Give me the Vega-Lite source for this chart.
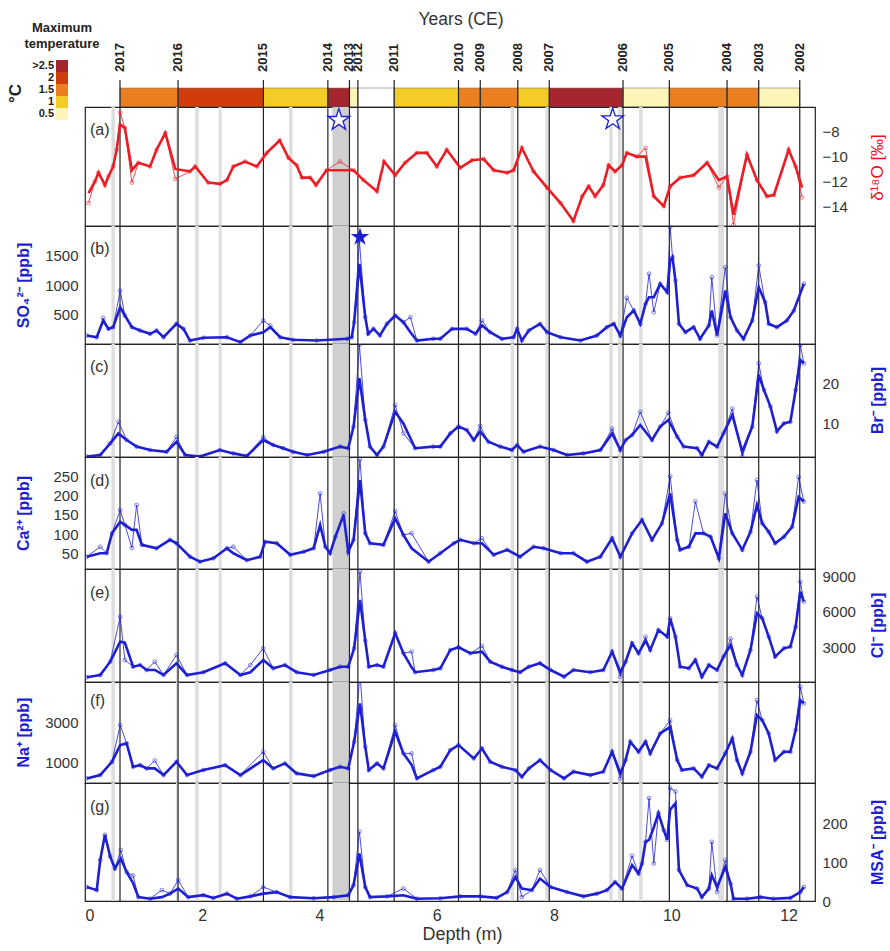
{
"$schema":"https://vega.github.io/schema/vega-lite/v6.json",
"padding":{"left":6,"top":10,"right":5,"bottom":5},
"background":"white",
"config":{"font":"Liberation Sans","view":{"stroke":"#222","strokeWidth":1.2},
"axisY":{"labelFontSize":15,"labelColor":"#333","ticks":false,"domain":false,"grid":false,"labelPadding":7,"titleFontSize":16,"titleFontWeight":"bold","titleAngle":270,"titleBaseline":"middle","titleAlign":"center"},
"axisX":{"labelFontSize":16,"labelColor":"#333","ticks":false,"domain":false,"grid":false,"labelPadding":6,"titleFontSize":18,"titleFontWeight":"normal","titleColor":"#333"}},
"datasets":{
"years":[{"year":"2017","depth":0.597},{"year":"2016","depth":1.587},{"year":"2015","depth":3.043},{"year":"2014","depth":4.142},{"year":"2013","depth":4.51},{"year":"2012","depth":4.654},{"year":"2011","depth":5.273},{"year":"2010","depth":6.37},{"year":"2009","depth":6.741},{"year":"2008","depth":7.381},{"year":"2007","depth":7.918},{"year":"2006","depth":9.176},{"year":"2005","depth":9.966},{"year":"2004","depth":10.95},{"year":"2003","depth":11.49},{"year":"2002","depth":12.19}],
"seasons":[{"start":0.597,"end":1.587,"tmax":"1.5"},{"start":1.587,"end":3.043,"tmax":"2"},{"start":3.043,"end":4.142,"tmax":"1"},{"start":4.142,"end":4.51,"tmax":">2.5"},{"start":4.51,"end":4.654,"tmax":"0.5"},{"start":4.654,"end":5.273,"tmax":"no data"},{"start":5.273,"end":6.37,"tmax":"1"},{"start":6.37,"end":6.741,"tmax":"1.5"},{"start":6.741,"end":7.381,"tmax":"1.5"},{"start":7.381,"end":7.918,"tmax":"1"},{"start":7.918,"end":9.176,"tmax":">2.5"},{"start":9.176,"end":9.966,"tmax":"0.5"},{"start":9.966,"end":10.95,"tmax":"1.5"},{"start":10.95,"end":11.49,"tmax":"1.5"},{"start":11.49,"end":12.19,"tmax":"0.5"}],
"bands":[{"start":0.45,"end":0.51,"tone":"light"},{"start":1.55,"end":1.6,"tone":"light"},{"start":1.88,"end":1.94,"tone":"light"},{"start":2.28,"end":2.33,"tone":"light"},{"start":3.48,"end":3.54,"tone":"light"},{"start":7.26,"end":7.32,"tone":"light"},{"start":7.85,"end":7.92,"tone":"light"},{"start":8.94,"end":9.0,"tone":"light"},{"start":9.09,"end":9.15,"tone":"light"},{"start":9.45,"end":9.51,"tone":"light"},{"start":10.8,"end":10.9,"tone":"light"},{"start":4.22,"end":4.5,"tone":"dark"}],
"stars":[{"panel":"a","depth":4.33,"value":-7.05,"kind":"open"},{"panel":"a","depth":9.0,"value":-7.0,"kind":"open"},{"panel":"b","depth":4.69,"value":1812,"kind":"solid"}],
"series":[
{"panel":"a","depth":0.06,"smooth":-12.94,"raw":-13.75},{"panel":"a","depth":0.17,"smooth":-12.0,"raw":-12.0},{"panel":"a","depth":0.23,"smooth":-11.3,"raw":-11.3},{"panel":"a","depth":0.34,"smooth":-12.3,"raw":-12.3},{"panel":"a","depth":0.4,"smooth":-11.6,"raw":-11.6},{"panel":"a","depth":0.48,"smooth":-10.8,"raw":-10.8},{"panel":"a","depth":0.54,"smooth":-9.45,"raw":-9.45},{"panel":"a","depth":0.6,"smooth":-7.4,"raw":-6.45},{"panel":"a","depth":0.68,"smooth":-7.7,"raw":-7.7},{"panel":"a","depth":0.8,"smooth":-11.1,"raw":-12.1},{"panel":"a","depth":0.91,"smooth":-10.5,"raw":-10.5},{"panel":"a","depth":1.11,"smooth":-10.8,"raw":-10.8},{"panel":"a","depth":1.22,"smooth":-9.45,"raw":-9.45},{"panel":"a","depth":1.37,"smooth":-8.1,"raw":-8.1},{"panel":"a","depth":1.54,"smooth":-11.0,"raw":-11.8},{"panel":"a","depth":1.79,"smooth":-11.2,"raw":-11.2},{"panel":"a","depth":1.88,"smooth":-10.8,"raw":-10.8},{"panel":"a","depth":2.1,"smooth":-12.1,"raw":-12.1},{"panel":"a","depth":2.3,"smooth":-12.2,"raw":-12.2},{"panel":"a","depth":2.42,"smooth":-11.9,"raw":-11.9},{"panel":"a","depth":2.53,"smooth":-10.8,"raw":-10.8},{"panel":"a","depth":2.73,"smooth":-10.4,"raw":-10.4},{"panel":"a","depth":2.93,"smooth":-10.8,"raw":-10.8},{"panel":"a","depth":3.1,"smooth":-9.7,"raw":-9.7},{"panel":"a","depth":3.32,"smooth":-8.7,"raw":-8.7},{"panel":"a","depth":3.47,"smooth":-10.1,"raw":-10.1},{"panel":"a","depth":3.61,"smooth":-10.7,"raw":-10.7},{"panel":"a","depth":3.7,"smooth":-11.7,"raw":-11.7},{"panel":"a","depth":3.84,"smooth":-11.7,"raw":-11.7},{"panel":"a","depth":3.94,"smooth":-12.3,"raw":-12.3},{"panel":"a","depth":4.12,"smooth":-11.1,"raw":-11.1},{"panel":"a","depth":4.35,"smooth":-11.1,"raw":-10.4},{"panel":"a","depth":4.58,"smooth":-11.1,"raw":-11.1},{"panel":"a","depth":4.75,"smooth":-11.9,"raw":-11.9},{"panel":"a","depth":4.98,"smooth":-12.8,"raw":-12.8},{"panel":"a","depth":5.1,"smooth":-10.4,"raw":-10.4},{"panel":"a","depth":5.29,"smooth":-11.5,"raw":-11.5},{"panel":"a","depth":5.46,"smooth":-10.5,"raw":-10.5},{"panel":"a","depth":5.66,"smooth":-9.7,"raw":-9.7},{"panel":"a","depth":5.83,"smooth":-9.7,"raw":-9.7},{"panel":"a","depth":6.0,"smooth":-10.8,"raw":-10.8},{"panel":"a","depth":6.17,"smooth":-9.45,"raw":-9.45},{"panel":"a","depth":6.4,"smooth":-10.9,"raw":-10.9},{"panel":"a","depth":6.6,"smooth":-10.3,"raw":-10.3},{"panel":"a","depth":6.8,"smooth":-10.2,"raw":-10.2},{"panel":"a","depth":6.97,"smooth":-11.1,"raw":-11.1},{"panel":"a","depth":7.2,"smooth":-11.3,"raw":-11.3},{"panel":"a","depth":7.31,"smooth":-11.1,"raw":-11.1},{"panel":"a","depth":7.45,"smooth":-9.3,"raw":-9.3},{"panel":"a","depth":7.65,"smooth":-11.2,"raw":-11.2},{"panel":"a","depth":7.88,"smooth":-12.5,"raw":-12.5},{"panel":"a","depth":8.11,"smooth":-13.75,"raw":-13.75},{"panel":"a","depth":8.33,"smooth":-15.2,"raw":-15.2},{"panel":"a","depth":8.48,"smooth":-13.2,"raw":-13.2},{"panel":"a","depth":8.59,"smooth":-12.4,"raw":-12.4},{"panel":"a","depth":8.7,"smooth":-13.2,"raw":-13.2},{"panel":"a","depth":8.84,"smooth":-12.3,"raw":-12.3},{"panel":"a","depth":8.93,"smooth":-10.7,"raw":-10.7},{"panel":"a","depth":9.04,"smooth":-11.2,"raw":-11.2},{"panel":"a","depth":9.16,"smooth":-10.7,"raw":-10.7},{"panel":"a","depth":9.24,"smooth":-9.7,"raw":-9.7},{"panel":"a","depth":9.41,"smooth":-10.0,"raw":-10.0},{"panel":"a","depth":9.56,"smooth":-10.0,"raw":-9.3},{"panel":"a","depth":9.7,"smooth":-13.2,"raw":-13.2},{"panel":"a","depth":9.87,"smooth":-14.0,"raw":-14.0},{"panel":"a","depth":9.98,"smooth":-12.4,"raw":-12.4},{"panel":"a","depth":10.15,"smooth":-11.7,"raw":-11.7},{"panel":"a","depth":10.38,"smooth":-11.5,"raw":-11.5},{"panel":"a","depth":10.61,"smooth":-10.5,"raw":-10.5},{"panel":"a","depth":10.81,"smooth":-11.9,"raw":-12.5},{"panel":"a","depth":10.95,"smooth":-11.6,"raw":-11.6},{"panel":"a","depth":11.06,"smooth":-14.7,"raw":-15.5},{"panel":"a","depth":11.29,"smooth":-9.85,"raw":-9.85},{"panel":"a","depth":11.46,"smooth":-11.9,"raw":-11.9},{"panel":"a","depth":11.63,"smooth":-13.2,"raw":-13.2},{"panel":"a","depth":11.75,"smooth":-13.1,"raw":-13.1},{"panel":"a","depth":12.0,"smooth":-9.45,"raw":-9.45},{"panel":"a","depth":12.12,"smooth":-10.8,"raw":-10.8},{"panel":"a","depth":12.23,"smooth":-12.5,"raw":-13.3},
{"panel":"b","depth":0.03,"smooth":144,"raw":144},{"panel":"b","depth":0.2,"smooth":115,"raw":115},{"panel":"b","depth":0.31,"smooth":398,"raw":440},{"panel":"b","depth":0.4,"smooth":257,"raw":257},{"panel":"b","depth":0.48,"smooth":285,"raw":285},{"panel":"b","depth":0.6,"smooth":624,"raw":907},{"panel":"b","depth":0.68,"smooth":483,"raw":483},{"panel":"b","depth":0.8,"smooth":285,"raw":285},{"panel":"b","depth":0.94,"smooth":229,"raw":229},{"panel":"b","depth":1.11,"smooth":173,"raw":173},{"panel":"b","depth":1.22,"smooth":229,"raw":229},{"panel":"b","depth":1.34,"smooth":115,"raw":115},{"panel":"b","depth":1.56,"smooth":342,"raw":342},{"panel":"b","depth":1.68,"smooth":257,"raw":257},{"panel":"b","depth":1.79,"smooth":59,"raw":59},{"panel":"b","depth":2.02,"smooth":105,"raw":105},{"panel":"b","depth":2.42,"smooth":115,"raw":115},{"panel":"b","depth":2.65,"smooth":31,"raw":31},{"panel":"b","depth":2.82,"smooth":144,"raw":144},{"panel":"b","depth":3.04,"smooth":200,"raw":398},{"panel":"b","depth":3.16,"smooth":285,"raw":313},{"panel":"b","depth":3.33,"smooth":115,"raw":115},{"panel":"b","depth":3.55,"smooth":71,"raw":71},{"panel":"b","depth":3.95,"smooth":59,"raw":59},{"panel":"b","depth":4.47,"smooth":88,"raw":88},{"panel":"b","depth":4.55,"smooth":115,"raw":115},{"panel":"b","depth":4.59,"smooth":370,"raw":370},{"panel":"b","depth":4.68,"smooth":1359,"raw":1750},{"panel":"b","depth":4.78,"smooth":454,"raw":454},{"panel":"b","depth":4.83,"smooth":173,"raw":173},{"panel":"b","depth":4.92,"smooth":257,"raw":257},{"panel":"b","depth":5.03,"smooth":144,"raw":144},{"panel":"b","depth":5.15,"smooth":342,"raw":342},{"panel":"b","depth":5.29,"smooth":483,"raw":483},{"panel":"b","depth":5.43,"smooth":370,"raw":370},{"panel":"b","depth":5.55,"smooth":200,"raw":454},{"panel":"b","depth":5.66,"smooth":59,"raw":59},{"panel":"b","depth":5.94,"smooth":88,"raw":88},{"panel":"b","depth":6.06,"smooth":88,"raw":88},{"panel":"b","depth":6.26,"smooth":257,"raw":257},{"panel":"b","depth":6.51,"smooth":257,"raw":257},{"panel":"b","depth":6.66,"smooth":173,"raw":173},{"panel":"b","depth":6.77,"smooth":314,"raw":398},{"panel":"b","depth":6.91,"smooth":200,"raw":200},{"panel":"b","depth":7.11,"smooth":88,"raw":88},{"panel":"b","depth":7.31,"smooth":115,"raw":115},{"panel":"b","depth":7.37,"smooth":257,"raw":257},{"panel":"b","depth":7.45,"smooth":59,"raw":59},{"panel":"b","depth":7.57,"smooth":229,"raw":229},{"panel":"b","depth":7.76,"smooth":342,"raw":342},{"panel":"b","depth":7.88,"smooth":200,"raw":200},{"panel":"b","depth":8.11,"smooth":115,"raw":115},{"panel":"b","depth":8.45,"smooth":59,"raw":59},{"panel":"b","depth":8.73,"smooth":144,"raw":144},{"panel":"b","depth":8.9,"smooth":285,"raw":285},{"panel":"b","depth":9.02,"smooth":342,"raw":342},{"panel":"b","depth":9.13,"smooth":144,"raw":144},{"panel":"b","depth":9.24,"smooth":454,"raw":783},{"panel":"b","depth":9.36,"smooth":568,"raw":568},{"panel":"b","depth":9.47,"smooth":342,"raw":342},{"panel":"b","depth":9.56,"smooth":681,"raw":681},{"panel":"b","depth":9.62,"smooth":793,"raw":1190},{"panel":"b","depth":9.7,"smooth":793,"raw":540},{"panel":"b","depth":9.81,"smooth":1020,"raw":1020},{"panel":"b","depth":9.93,"smooth":878,"raw":878},{"panel":"b","depth":9.98,"smooth":1415,"raw":1980},{"panel":"b","depth":10.02,"smooth":1470,"raw":1470},{"panel":"b","depth":10.07,"smooth":1076,"raw":1076},{"panel":"b","depth":10.13,"smooth":342,"raw":342},{"panel":"b","depth":10.24,"smooth":200,"raw":200},{"panel":"b","depth":10.38,"smooth":285,"raw":285},{"panel":"b","depth":10.49,"smooth":88,"raw":88},{"panel":"b","depth":10.64,"smooth":314,"raw":314},{"panel":"b","depth":10.69,"smooth":568,"raw":1132},{"panel":"b","depth":10.78,"smooth":144,"raw":144},{"panel":"b","depth":10.92,"smooth":907,"raw":1302},{"panel":"b","depth":11.01,"smooth":454,"raw":454},{"panel":"b","depth":11.12,"smooth":229,"raw":229},{"panel":"b","depth":11.23,"smooth":88,"raw":88},{"panel":"b","depth":11.38,"smooth":398,"raw":398},{"panel":"b","depth":11.49,"smooth":963,"raw":1331},{"panel":"b","depth":11.6,"smooth":708,"raw":708},{"panel":"b","depth":11.66,"smooth":342,"raw":342},{"panel":"b","depth":11.8,"smooth":285,"raw":285},{"panel":"b","depth":11.97,"smooth":398,"raw":398},{"panel":"b","depth":12.09,"smooth":568,"raw":568},{"panel":"b","depth":12.26,"smooth":1020,"raw":1020},
{"panel":"c","depth":0.03,"smooth":1.6,"raw":1.6},{"panel":"c","depth":0.26,"smooth":2.0,"raw":2.0},{"panel":"c","depth":0.43,"smooth":4.9,"raw":4.9},{"panel":"c","depth":0.57,"smooth":7.4,"raw":10.3},{"panel":"c","depth":0.71,"smooth":5.75,"raw":5.75},{"panel":"c","depth":0.88,"smooth":4.1,"raw":4.1},{"panel":"c","depth":1.11,"smooth":3.25,"raw":3.25},{"panel":"c","depth":1.39,"smooth":2.8,"raw":2.8},{"panel":"c","depth":1.56,"smooth":5.3,"raw":6.5},{"panel":"c","depth":1.71,"smooth":2.0,"raw":2.0},{"panel":"c","depth":1.96,"smooth":1.6,"raw":1.6},{"panel":"c","depth":2.3,"smooth":3.25,"raw":3.25},{"panel":"c","depth":2.53,"smooth":2.4,"raw":2.4},{"panel":"c","depth":2.76,"smooth":1.75,"raw":1.75},{"panel":"c","depth":3.04,"smooth":5.75,"raw":6.5},{"panel":"c","depth":3.21,"smooth":4.5,"raw":4.5},{"panel":"c","depth":3.38,"smooth":3.7,"raw":3.7},{"panel":"c","depth":3.55,"smooth":2.8,"raw":2.8},{"panel":"c","depth":3.79,"smooth":2.0,"raw":2.0},{"panel":"c","depth":4.07,"smooth":2.8,"raw":2.8},{"panel":"c","depth":4.35,"smooth":4.1,"raw":4.1},{"panel":"c","depth":4.49,"smooth":3.7,"raw":3.7},{"panel":"c","depth":4.58,"smooth":9.1,"raw":9.1},{"panel":"c","depth":4.68,"smooth":21.2,"raw":29.5},{"panel":"c","depth":4.78,"smooth":10.75,"raw":10.75},{"panel":"c","depth":4.86,"smooth":4.1,"raw":4.1},{"panel":"c","depth":4.98,"smooth":2.0,"raw":2.0},{"panel":"c","depth":5.09,"smooth":4.1,"raw":4.1},{"panel":"c","depth":5.29,"smooth":12.8,"raw":14.5},{"panel":"c","depth":5.43,"smooth":9.9,"raw":7.4},{"panel":"c","depth":5.63,"smooth":3.7,"raw":3.7},{"panel":"c","depth":5.94,"smooth":4.1,"raw":4.1},{"panel":"c","depth":6.06,"smooth":4.1,"raw":4.1},{"panel":"c","depth":6.23,"smooth":7.4,"raw":7.4},{"panel":"c","depth":6.37,"smooth":9.1,"raw":9.1},{"panel":"c","depth":6.51,"smooth":8.25,"raw":8.25},{"panel":"c","depth":6.63,"smooth":5.75,"raw":5.75},{"panel":"c","depth":6.74,"smooth":7.9,"raw":9.3},{"panel":"c","depth":6.88,"smooth":5.3,"raw":5.3},{"panel":"c","depth":7.08,"smooth":4.1,"raw":4.1},{"panel":"c","depth":7.28,"smooth":3.25,"raw":3.25},{"panel":"c","depth":7.37,"smooth":4.5,"raw":4.5},{"panel":"c","depth":7.48,"smooth":2.8,"raw":2.8},{"panel":"c","depth":7.76,"smooth":4.1,"raw":4.1},{"panel":"c","depth":7.99,"smooth":3.25,"raw":3.25},{"panel":"c","depth":8.22,"smooth":2.0,"raw":2.0},{"panel":"c","depth":8.5,"smooth":2.4,"raw":2.4},{"panel":"c","depth":8.79,"smooth":3.25,"raw":3.25},{"panel":"c","depth":8.99,"smooth":7.4,"raw":8.6},{"panel":"c","depth":9.13,"smooth":3.25,"raw":3.25},{"panel":"c","depth":9.22,"smooth":5.75,"raw":5.75},{"panel":"c","depth":9.33,"smooth":7.0,"raw":7.0},{"panel":"c","depth":9.47,"smooth":9.5,"raw":12.8},{"panel":"c","depth":9.67,"smooth":5.75,"raw":5.75},{"panel":"c","depth":9.81,"smooth":9.1,"raw":9.1},{"panel":"c","depth":9.95,"smooth":10.75,"raw":12.6},{"panel":"c","depth":10.1,"smooth":6.6,"raw":6.6},{"panel":"c","depth":10.21,"smooth":4.1,"raw":4.1},{"panel":"c","depth":10.44,"smooth":3.7,"raw":3.7},{"panel":"c","depth":10.52,"smooth":2.0,"raw":2.0},{"panel":"c","depth":10.64,"smooth":5.3,"raw":5.3},{"panel":"c","depth":10.78,"smooth":4.1,"raw":4.1},{"panel":"c","depth":10.89,"smooth":7.4,"raw":7.4},{"panel":"c","depth":11.04,"smooth":12.0,"raw":13.6},{"panel":"c","depth":11.21,"smooth":2.8,"raw":1.6},{"panel":"c","depth":11.38,"smooth":9.1,"raw":9.1},{"panel":"c","depth":11.49,"smooth":22.0,"raw":24.9},{"panel":"c","depth":11.58,"smooth":18.25,"raw":18.25},{"panel":"c","depth":11.69,"smooth":14.1,"raw":14.1},{"panel":"c","depth":11.8,"smooth":7.9,"raw":7.9},{"panel":"c","depth":11.92,"smooth":9.9,"raw":9.9},{"panel":"c","depth":12.03,"smooth":10.3,"raw":10.3},{"panel":"c","depth":12.12,"smooth":18.25,"raw":18.25},{"panel":"c","depth":12.2,"smooth":25.75,"raw":29.5},{"panel":"c","depth":12.26,"smooth":24.9,"raw":24.9},
{"panel":"d","depth":0.03,"smooth":41,"raw":41},{"panel":"d","depth":0.26,"smooth":50,"raw":67},{"panel":"d","depth":0.37,"smooth":50,"raw":50},{"panel":"d","depth":0.46,"smooth":102,"raw":102},{"panel":"d","depth":0.6,"smooth":132,"raw":163},{"panel":"d","depth":0.68,"smooth":124,"raw":124},{"panel":"d","depth":0.8,"smooth":111,"raw":64},{"panel":"d","depth":0.88,"smooth":111,"raw":176},{"panel":"d","depth":0.97,"smooth":72,"raw":72},{"panel":"d","depth":1.22,"smooth":63,"raw":63},{"panel":"d","depth":1.45,"smooth":85,"raw":85},{"panel":"d","depth":1.56,"smooth":76,"raw":76},{"panel":"d","depth":1.79,"smooth":41,"raw":41},{"panel":"d","depth":1.96,"smooth":28,"raw":28},{"panel":"d","depth":2.19,"smooth":37,"raw":37},{"panel":"d","depth":2.42,"smooth":63,"raw":63},{"panel":"d","depth":2.53,"smooth":50,"raw":67},{"panel":"d","depth":2.76,"smooth":32,"raw":32},{"panel":"d","depth":2.99,"smooth":41,"raw":41},{"panel":"d","depth":3.07,"smooth":80,"raw":80},{"panel":"d","depth":3.27,"smooth":76,"raw":76},{"panel":"d","depth":3.5,"smooth":46,"raw":46},{"panel":"d","depth":3.73,"smooth":54,"raw":54},{"panel":"d","depth":3.9,"smooth":63,"raw":63},{"panel":"d","depth":4.01,"smooth":124,"raw":206},{"panel":"d","depth":4.1,"smooth":67,"raw":67},{"panel":"d","depth":4.18,"smooth":50,"raw":50},{"panel":"d","depth":4.27,"smooth":93,"raw":93},{"panel":"d","depth":4.41,"smooth":150,"raw":154},{"panel":"d","depth":4.49,"smooth":54,"raw":54},{"panel":"d","depth":4.58,"smooth":85,"raw":85},{"panel":"d","depth":4.69,"smooth":241,"raw":295},{"panel":"d","depth":4.78,"smooth":102,"raw":102},{"panel":"d","depth":4.86,"smooth":76,"raw":76},{"panel":"d","depth":5.09,"smooth":72,"raw":72},{"panel":"d","depth":5.29,"smooth":141,"raw":160},{"panel":"d","depth":5.43,"smooth":98,"raw":98},{"panel":"d","depth":5.57,"smooth":63,"raw":102},{"panel":"d","depth":5.86,"smooth":28,"raw":28},{"panel":"d","depth":6.06,"smooth":50,"raw":50},{"panel":"d","depth":6.29,"smooth":76,"raw":76},{"panel":"d","depth":6.4,"smooth":85,"raw":85},{"panel":"d","depth":6.63,"smooth":76,"raw":76},{"panel":"d","depth":6.77,"smooth":76,"raw":89},{"panel":"d","depth":6.97,"smooth":46,"raw":46},{"panel":"d","depth":7.2,"smooth":59,"raw":59},{"panel":"d","depth":7.42,"smooth":41,"raw":41},{"panel":"d","depth":7.65,"smooth":67,"raw":67},{"panel":"d","depth":7.82,"smooth":63,"raw":63},{"panel":"d","depth":8.11,"smooth":50,"raw":50},{"panel":"d","depth":8.33,"smooth":50,"raw":50},{"panel":"d","depth":8.56,"smooth":28,"raw":28},{"panel":"d","depth":8.79,"smooth":41,"raw":41},{"panel":"d","depth":8.99,"smooth":89,"raw":89},{"panel":"d","depth":9.13,"smooth":41,"raw":41},{"panel":"d","depth":9.33,"smooth":102,"raw":102},{"panel":"d","depth":9.5,"smooth":137,"raw":137},{"panel":"d","depth":9.67,"smooth":85,"raw":85},{"panel":"d","depth":9.84,"smooth":128,"raw":128},{"panel":"d","depth":9.98,"smooth":206,"raw":251},{"panel":"d","depth":10.1,"smooth":85,"raw":85},{"panel":"d","depth":10.15,"smooth":59,"raw":59},{"panel":"d","depth":10.3,"smooth":67,"raw":67},{"panel":"d","depth":10.41,"smooth":102,"raw":185},{"panel":"d","depth":10.55,"smooth":102,"raw":102},{"panel":"d","depth":10.67,"smooth":93,"raw":93},{"panel":"d","depth":10.81,"smooth":37,"raw":37},{"panel":"d","depth":10.92,"smooth":154,"raw":206},{"panel":"d","depth":11.04,"smooth":102,"raw":102},{"panel":"d","depth":11.21,"smooth":59,"raw":59},{"panel":"d","depth":11.35,"smooth":106,"raw":106},{"panel":"d","depth":11.46,"smooth":176,"raw":241},{"panel":"d","depth":11.55,"smooth":128,"raw":128},{"panel":"d","depth":11.66,"smooth":106,"raw":106},{"panel":"d","depth":11.77,"smooth":76,"raw":76},{"panel":"d","depth":11.92,"smooth":93,"raw":93},{"panel":"d","depth":12.06,"smooth":119,"raw":119},{"panel":"d","depth":12.17,"smooth":197,"raw":249},{"panel":"d","depth":12.26,"smooth":185,"raw":185},
{"panel":"e","depth":0.03,"smooth":450,"raw":450},{"panel":"e","depth":0.26,"smooth":645,"raw":645},{"panel":"e","depth":0.43,"smooth":1776,"raw":1776},{"panel":"e","depth":0.6,"smooth":3476,"raw":5600},{"panel":"e","depth":0.68,"smooth":3400,"raw":1920},{"panel":"e","depth":0.82,"smooth":1350,"raw":1350},{"panel":"e","depth":0.94,"smooth":1490,"raw":1490},{"panel":"e","depth":1.05,"smooth":1070,"raw":1070},{"panel":"e","depth":1.19,"smooth":1070,"raw":1776},{"panel":"e","depth":1.34,"smooth":645,"raw":645},{"panel":"e","depth":1.56,"smooth":1640,"raw":2346},{"panel":"e","depth":1.74,"smooth":645,"raw":645},{"panel":"e","depth":2.02,"smooth":880,"raw":880},{"panel":"e","depth":2.39,"smooth":1640,"raw":1640},{"panel":"e","depth":2.65,"smooth":645,"raw":645},{"panel":"e","depth":2.82,"smooth":880,"raw":1490},{"panel":"e","depth":3.04,"smooth":1920,"raw":2910},{"panel":"e","depth":3.21,"smooth":1210,"raw":1210},{"panel":"e","depth":3.41,"smooth":1490,"raw":1490},{"panel":"e","depth":3.61,"smooth":880,"raw":880},{"panel":"e","depth":3.9,"smooth":645,"raw":645},{"panel":"e","depth":4.18,"smooth":1070,"raw":1070},{"panel":"e","depth":4.35,"smooth":1350,"raw":1350},{"panel":"e","depth":4.49,"smooth":1350,"raw":1350},{"panel":"e","depth":4.59,"smooth":2915,"raw":2915},{"panel":"e","depth":4.69,"smooth":7020,"raw":9426},{"panel":"e","depth":4.78,"smooth":3560,"raw":3560},{"panel":"e","depth":4.84,"smooth":1350,"raw":1350},{"panel":"e","depth":4.98,"smooth":1490,"raw":1490},{"panel":"e","depth":5.09,"smooth":1350,"raw":1350},{"panel":"e","depth":5.29,"smooth":4190,"raw":4190},{"panel":"e","depth":5.43,"smooth":2490,"raw":2490},{"panel":"e","depth":5.57,"smooth":1300,"raw":2630},{"panel":"e","depth":5.63,"smooth":880,"raw":880},{"panel":"e","depth":5.94,"smooth":1070,"raw":1070},{"panel":"e","depth":6.06,"smooth":1215,"raw":1215},{"panel":"e","depth":6.23,"smooth":2770,"raw":2770},{"panel":"e","depth":6.37,"smooth":3000,"raw":3000},{"panel":"e","depth":6.57,"smooth":2490,"raw":2490},{"panel":"e","depth":6.77,"smooth":2630,"raw":3110},{"panel":"e","depth":6.91,"smooth":1776,"raw":1776},{"panel":"e","depth":7.11,"smooth":1350,"raw":1350},{"panel":"e","depth":7.28,"smooth":1070,"raw":1070},{"panel":"e","depth":7.42,"smooth":880,"raw":880},{"panel":"e","depth":7.57,"smooth":1350,"raw":1350},{"panel":"e","depth":7.76,"smooth":1640,"raw":1640},{"panel":"e","depth":7.94,"smooth":1070,"raw":1070},{"panel":"e","depth":8.17,"smooth":500,"raw":500},{"panel":"e","depth":8.33,"smooth":1070,"raw":1070},{"panel":"e","depth":8.62,"smooth":880,"raw":880},{"panel":"e","depth":8.84,"smooth":1070,"raw":1070},{"panel":"e","depth":8.99,"smooth":2630,"raw":2630},{"panel":"e","depth":9.13,"smooth":880,"raw":500},{"panel":"e","depth":9.22,"smooth":1776,"raw":1776},{"panel":"e","depth":9.33,"smooth":3340,"raw":3340},{"panel":"e","depth":9.44,"smooth":2490,"raw":2490},{"panel":"e","depth":9.56,"smooth":3560,"raw":3900},{"panel":"e","depth":9.64,"smooth":2770,"raw":2770},{"panel":"e","depth":9.78,"smooth":4470,"raw":4470},{"panel":"e","depth":9.93,"smooth":3900,"raw":3900},{"panel":"e","depth":9.98,"smooth":5460,"raw":5460},{"panel":"e","depth":10.07,"smooth":3900,"raw":3900},{"panel":"e","depth":10.15,"smooth":1350,"raw":1350},{"panel":"e","depth":10.3,"smooth":1215,"raw":1215},{"panel":"e","depth":10.41,"smooth":1920,"raw":1920},{"panel":"e","depth":10.52,"smooth":500,"raw":500},{"panel":"e","depth":10.64,"smooth":1490,"raw":1490},{"panel":"e","depth":10.78,"smooth":1070,"raw":1070},{"panel":"e","depth":10.89,"smooth":2200,"raw":2200},{"panel":"e","depth":11.01,"smooth":3195,"raw":3730},{"panel":"e","depth":11.12,"smooth":1490,"raw":1490},{"panel":"e","depth":11.21,"smooth":645,"raw":645},{"panel":"e","depth":11.35,"smooth":2770,"raw":2770},{"panel":"e","depth":11.46,"smooth":5890,"raw":7300},{"panel":"e","depth":11.55,"smooth":5460,"raw":5460},{"panel":"e","depth":11.66,"smooth":3900,"raw":3900},{"panel":"e","depth":11.77,"smooth":2200,"raw":2200},{"panel":"e","depth":11.92,"smooth":2910,"raw":2910},{"panel":"e","depth":12.03,"smooth":3050,"raw":3050},{"panel":"e","depth":12.12,"smooth":4750,"raw":4750},{"panel":"e","depth":12.2,"smooth":7730,"raw":8580},{"panel":"e","depth":12.26,"smooth":6880,"raw":6880},
{"panel":"f","depth":0.03,"smooth":228,"raw":228},{"panel":"f","depth":0.26,"smooth":391,"raw":391},{"panel":"f","depth":0.46,"smooth":1050,"raw":1050},{"panel":"f","depth":0.6,"smooth":1876,"raw":2866},{"panel":"f","depth":0.71,"smooth":1960,"raw":1960},{"panel":"f","depth":0.82,"smooth":802,"raw":802},{"panel":"f","depth":0.94,"smooth":880,"raw":880},{"panel":"f","depth":1.05,"smooth":722,"raw":722},{"panel":"f","depth":1.19,"smooth":722,"raw":1110},{"panel":"f","depth":1.34,"smooth":391,"raw":391},{"panel":"f","depth":1.56,"smooth":1050,"raw":1050},{"panel":"f","depth":1.74,"smooth":391,"raw":391},{"panel":"f","depth":2.02,"smooth":640,"raw":640},{"panel":"f","depth":2.39,"smooth":880,"raw":880},{"panel":"f","depth":2.65,"smooth":391,"raw":391},{"panel":"f","depth":3.04,"smooth":1134,"raw":1545},{"panel":"f","depth":3.21,"smooth":722,"raw":722},{"panel":"f","depth":3.41,"smooth":970,"raw":970},{"panel":"f","depth":3.61,"smooth":475,"raw":475},{"panel":"f","depth":3.9,"smooth":340,"raw":340},{"panel":"f","depth":4.18,"smooth":640,"raw":640},{"panel":"f","depth":4.35,"smooth":802,"raw":802},{"panel":"f","depth":4.49,"smooth":722,"raw":722},{"panel":"f","depth":4.59,"smooth":2040,"raw":2040},{"panel":"f","depth":4.69,"smooth":3940,"raw":5425},{"panel":"f","depth":4.78,"smooth":1795,"raw":1795},{"panel":"f","depth":4.84,"smooth":640,"raw":640},{"panel":"f","depth":4.98,"smooth":970,"raw":970},{"panel":"f","depth":5.09,"smooth":722,"raw":722},{"panel":"f","depth":5.29,"smooth":2535,"raw":2866},{"panel":"f","depth":5.43,"smooth":1465,"raw":1465},{"panel":"f","depth":5.57,"smooth":900,"raw":1465},{"panel":"f","depth":5.66,"smooth":228,"raw":228},{"panel":"f","depth":5.94,"smooth":640,"raw":640},{"panel":"f","depth":6.06,"smooth":802,"raw":802},{"panel":"f","depth":6.23,"smooth":1630,"raw":1630},{"panel":"f","depth":6.37,"smooth":1876,"raw":1876},{"panel":"f","depth":6.63,"smooth":1215,"raw":1215},{"panel":"f","depth":6.77,"smooth":1710,"raw":1710},{"panel":"f","depth":6.91,"smooth":1050,"raw":1050},{"panel":"f","depth":7.11,"smooth":802,"raw":802},{"panel":"f","depth":7.34,"smooth":640,"raw":640},{"panel":"f","depth":7.45,"smooth":310,"raw":310},{"panel":"f","depth":7.57,"smooth":722,"raw":722},{"panel":"f","depth":7.76,"smooth":1134,"raw":1134},{"panel":"f","depth":7.94,"smooth":640,"raw":640},{"panel":"f","depth":8.17,"smooth":228,"raw":228},{"panel":"f","depth":8.33,"smooth":557,"raw":557},{"panel":"f","depth":8.62,"smooth":391,"raw":391},{"panel":"f","depth":8.84,"smooth":557,"raw":557},{"panel":"f","depth":8.99,"smooth":1545,"raw":1545},{"panel":"f","depth":9.13,"smooth":475,"raw":228},{"panel":"f","depth":9.22,"smooth":1134,"raw":1134},{"panel":"f","depth":9.3,"smooth":2040,"raw":2040},{"panel":"f","depth":9.44,"smooth":1545,"raw":1545},{"panel":"f","depth":9.56,"smooth":2040,"raw":2040},{"panel":"f","depth":9.64,"smooth":1465,"raw":1465},{"panel":"f","depth":9.81,"smooth":2455,"raw":2455},{"panel":"f","depth":9.98,"smooth":2780,"raw":3110},{"panel":"f","depth":10.1,"smooth":1134,"raw":1134},{"panel":"f","depth":10.18,"smooth":640,"raw":640},{"panel":"f","depth":10.38,"smooth":722,"raw":722},{"panel":"f","depth":10.52,"smooth":310,"raw":310},{"panel":"f","depth":10.64,"smooth":880,"raw":880},{"panel":"f","depth":10.78,"smooth":722,"raw":722},{"panel":"f","depth":10.92,"smooth":1465,"raw":1465},{"panel":"f","depth":11.04,"smooth":2200,"raw":2200},{"panel":"f","depth":11.12,"smooth":1134,"raw":1134},{"panel":"f","depth":11.21,"smooth":475,"raw":475},{"panel":"f","depth":11.35,"smooth":1545,"raw":1545},{"panel":"f","depth":11.46,"smooth":3360,"raw":4100},{"panel":"f","depth":11.55,"smooth":3110,"raw":3110},{"panel":"f","depth":11.66,"smooth":2455,"raw":2455},{"panel":"f","depth":11.77,"smooth":1134,"raw":1134},{"panel":"f","depth":11.92,"smooth":1545,"raw":1545},{"panel":"f","depth":12.03,"smooth":1545,"raw":1545},{"panel":"f","depth":12.12,"smooth":2620,"raw":2620},{"panel":"f","depth":12.2,"smooth":4100,"raw":4760},{"panel":"f","depth":12.26,"smooth":3940,"raw":3940},
{"panel":"g","depth":0.03,"smooth":36,"raw":36},{"panel":"g","depth":0.2,"smooth":28,"raw":28},{"panel":"g","depth":0.26,"smooth":106,"raw":106},{"panel":"g","depth":0.34,"smooth":171,"raw":171},{"panel":"g","depth":0.43,"smooth":115,"raw":115},{"panel":"g","depth":0.51,"smooth":84,"raw":84},{"panel":"g","depth":0.61,"smooth":110,"raw":132},{"panel":"g","depth":0.71,"smooth":75,"raw":75},{"panel":"g","depth":0.82,"smooth":46,"raw":66},{"panel":"g","depth":0.91,"smooth":10,"raw":10},{"panel":"g","depth":1.11,"smooth":6,"raw":6},{"panel":"g","depth":1.31,"smooth":10,"raw":28},{"panel":"g","depth":1.45,"smooth":19,"raw":19},{"panel":"g","depth":1.59,"smooth":32,"raw":54},{"panel":"g","depth":1.76,"smooth":10,"raw":10},{"panel":"g","depth":2.02,"smooth":15,"raw":15},{"panel":"g","depth":2.19,"smooth":8,"raw":8},{"panel":"g","depth":2.42,"smooth":19,"raw":19},{"panel":"g","depth":2.59,"smooth":6,"raw":6},{"panel":"g","depth":2.82,"smooth":12,"raw":12},{"panel":"g","depth":3.04,"smooth":19,"raw":36},{"panel":"g","depth":3.27,"smooth":23,"raw":23},{"panel":"g","depth":3.5,"smooth":10,"raw":10},{"panel":"g","depth":3.9,"smooth":7,"raw":7},{"panel":"g","depth":4.24,"smooth":10,"raw":10},{"panel":"g","depth":4.49,"smooth":15,"raw":15},{"panel":"g","depth":4.58,"smooth":41,"raw":41},{"panel":"g","depth":4.68,"smooth":123,"raw":179},{"panel":"g","depth":4.78,"smooth":36,"raw":36},{"panel":"g","depth":4.86,"smooth":10,"raw":10},{"panel":"g","depth":5.15,"smooth":12,"raw":12},{"panel":"g","depth":5.43,"smooth":15,"raw":32},{"panel":"g","depth":5.66,"smooth":6,"raw":6},{"panel":"g","depth":6.06,"smooth":7,"raw":7},{"panel":"g","depth":6.4,"smooth":12,"raw":12},{"panel":"g","depth":6.74,"smooth":12,"raw":12},{"panel":"g","depth":7.02,"smooth":8,"raw":8},{"panel":"g","depth":7.2,"smooth":23,"raw":23},{"panel":"g","depth":7.34,"smooth":62,"raw":80},{"panel":"g","depth":7.45,"smooth":32,"raw":10},{"panel":"g","depth":7.62,"smooth":28,"raw":28},{"panel":"g","depth":7.76,"smooth":58,"raw":80},{"panel":"g","depth":7.94,"smooth":36,"raw":36},{"panel":"g","depth":8.22,"smooth":23,"raw":23},{"panel":"g","depth":8.5,"smooth":12,"raw":12},{"panel":"g","depth":8.73,"smooth":19,"raw":19},{"panel":"g","depth":8.9,"smooth":28,"raw":28},{"panel":"g","depth":9.04,"smooth":49,"raw":49},{"panel":"g","depth":9.16,"smooth":32,"raw":32},{"panel":"g","depth":9.33,"smooth":93,"raw":117},{"panel":"g","depth":9.44,"smooth":71,"raw":71},{"panel":"g","depth":9.5,"smooth":97,"raw":97},{"panel":"g","depth":9.56,"smooth":153,"raw":153},{"panel":"g","depth":9.62,"smooth":158,"raw":266},{"panel":"g","depth":9.7,"smooth":190,"raw":97},{"panel":"g","depth":9.78,"smooth":227,"raw":227},{"panel":"g","depth":9.87,"smooth":183,"raw":183},{"panel":"g","depth":9.93,"smooth":158,"raw":158},{"panel":"g","depth":9.98,"smooth":236,"raw":292},{"panel":"g","depth":10.07,"smooth":253,"raw":283},{"panel":"g","depth":10.13,"smooth":80,"raw":80},{"panel":"g","depth":10.27,"smooth":41,"raw":41},{"panel":"g","depth":10.44,"smooth":32,"raw":32},{"panel":"g","depth":10.52,"smooth":10,"raw":10},{"panel":"g","depth":10.64,"smooth":32,"raw":32},{"panel":"g","depth":10.69,"smooth":67,"raw":153},{"panel":"g","depth":10.78,"smooth":36,"raw":23},{"panel":"g","depth":10.92,"smooth":88,"raw":106},{"panel":"g","depth":11.01,"smooth":45,"raw":45},{"panel":"g","depth":11.06,"smooth":6,"raw":6},{"panel":"g","depth":11.29,"smooth":6,"raw":6},{"panel":"g","depth":11.52,"smooth":10,"raw":10},{"panel":"g","depth":11.74,"smooth":6,"raw":6},{"panel":"g","depth":12.03,"smooth":8,"raw":8},{"panel":"g","depth":12.2,"smooth":23,"raw":23},{"panel":"g","depth":12.26,"smooth":36,"raw":36}
]},
"spacing":0,
"bounds":"flush",
"vconcat":[
{"width":730,"height":60,"view":{"stroke":null},
"title":{"text":"Years (CE)","fontSize":17.5,"fontWeight":"normal","color":"#333","anchor":"middle","frame":"group","dx":11,"offset":1,"baseline":"alphabetic"},
"layer":[
{"data":{"name":"seasons"},"mark":{"type":"rect","stroke":"#777","strokeWidth":0.6},"encoding":{
"x":{"field":"start","type":"quantitative","scale":{"domain":[0,12.45],"nice":false,"zero":false},"axis":null},"x2":{"field":"end"},
"y":{"datum":0,"type":"quantitative","scale":{"domain":[0,60],"nice":false,"zero":false},"axis":{"orient":"left","title":"°C","labels":false,"ticks":false,"domain":false,"grid":false,"titleX":-70,"titleY":46,"titleAngle":270,"titleFontSize":17,"titleFontWeight":"bold","titleColor":"#222","titleBaseline":"middle","titleAlign":"center"}},"y2":{"datum":19},
"color":{"field":"tmax","type":"nominal","scale":{"domain":[">2.5","2","1.5","1","0.5","no data"],"range":["#a6262f","#d03c0c","#ea7f21","#f5cc26","#fdf5b8","#ffffff"]},
"legend":{"values":[">2.5","2","1.5","1","0.5"],"orient":"none","legendX":-61,"legendY":-25,"title":["Maximum","temperature"],"titleFontSize":13,"titleFontWeight":"bold","titleColor":"#222","titleAnchor":"middle","titleAlign":"center","titleLineHeight":16,"titlePadding":9,"symbolType":"square","symbolSize":144,"symbolStrokeWidth":0,"symbolOpacity":1,"rowPadding":0,"labelAlign":"right","labelOffset":-14,"labelFontSize":11,"labelFontWeight":"bold","labelColor":"#222","padding":0}}}},
{"data":{"name":"years"},"mark":{"type":"rule","color":"#222","strokeWidth":1.2},"encoding":{
"x":{"field":"depth","type":"quantitative","scale":{"domain":[0,12.45],"nice":false,"zero":false},"axis":null},
"y":{"datum":0,"type":"quantitative","scale":{"domain":[0,60],"nice":false,"zero":false},"axis":{"orient":"left","title":"°C","labels":false,"ticks":false,"domain":false,"grid":false,"titleX":-70,"titleY":46,"titleAngle":270,"titleFontSize":17,"titleFontWeight":"bold","titleColor":"#222","titleBaseline":"middle","titleAlign":"center"}},"y2":{"datum":27}}},
{"data":{"name":"years"},"mark":{"type":"text","angle":270,"align":"left","baseline":"middle","fontSize":13,"fontWeight":"bold","color":"#222"},"encoding":{
"x":{"field":"depth","type":"quantitative","scale":{"domain":[0,12.45],"nice":false,"zero":false},"axis":null},
"y":{"datum":35,"type":"quantitative","scale":{"domain":[0,60],"nice":false,"zero":false},"axis":{"orient":"left","title":"°C","labels":false,"ticks":false,"domain":false,"grid":false,"titleX":-70,"titleY":46,"titleAngle":270,"titleFontSize":17,"titleFontWeight":"bold","titleColor":"#222","titleBaseline":"middle","titleAlign":"center"}},
"text":{"field":"year","type":"nominal"}}}
]},
{"width":730,"height":119,
"title":{"text":"(a)","anchor":"start","frame":"group","offset":0,"dx":5,"dy":41,"baseline":"middle","fontSize":16,"fontWeight":"normal","color":"#333"},
"layer":[
{"data":{"name":"bands"},"transform":[{"filter":"datum.tone == 'light'"}],"mark":{"type":"rect","color":"#dedede"},"encoding":{"x":{"field":"start","type":"quantitative","scale":{"domain":[0,12.45],"nice":false,"zero":false},"axis":null},"x2":{"field":"end"}}},
{"data":{"name":"bands"},"transform":[{"filter":"datum.tone == 'dark'"}],"mark":{"type":"rect","color":"#cfcfcf"},"encoding":{"x":{"field":"start","type":"quantitative","scale":{"domain":[0,12.45],"nice":false,"zero":false},"axis":null},"x2":{"field":"end"}}},
{"data":{"name":"years"},"mark":{"type":"rule","color":"#222","strokeWidth":1.2},"encoding":{"x":{"field":"depth","type":"quantitative","scale":{"domain":[0,12.45],"nice":false,"zero":false},"axis":null}}},
{"data":{"name":"series"},"transform":[{"filter":"datum.panel == 'a'"}],"encoding":{"x":{"field":"depth","type":"quantitative","scale":{"domain":[0,12.45],"nice":false,"zero":false},"axis":null},
"y":{"field":"raw","type":"quantitative","scale":{"domain":[-15.6,-6],"nice":false,"zero":false},"axis":{"orient":"right","values":[-8,-10,-12,-14],"format":"d","title":"δ¹⁸O [‰]","titleColor":"#e8141b","titleFontWeight":"normal","titleFontSize":17,"titleX":62,"titleY":60}}},
"layer":[{"mark":{"type":"line","color":"#ec1c24","strokeWidth":0.8,"clip":true}},{"mark":{"type":"point","shape":"circle","size":14,"filled":false,"color":"#ec1c24","strokeWidth":0.8,"clip":true}}]},
{"data":{"name":"series"},"transform":[{"filter":"datum.panel == 'a'"}],"mark":{"type":"line","color":"#ec1c24","strokeWidth":2.6,"clip":true},"encoding":{"x":{"field":"depth","type":"quantitative","scale":{"domain":[0,12.45],"nice":false,"zero":false},"axis":null},
"y":{"field":"smooth","type":"quantitative","scale":{"domain":[-15.6,-6],"nice":false,"zero":false},"axis":{"orient":"right","values":[-8,-10,-12,-14],"format":"d","title":"δ¹⁸O [‰]","titleColor":"#e8141b","titleFontWeight":"normal","titleFontSize":17,"titleX":62,"titleY":60}}}},
{"data":{"name":"stars"},"transform":[{"filter":"datum.panel == 'a'"}],"mark":{"type":"point","shape":"M0,-1L0.2245,-0.309L0.951,-0.309L0.363,0.118L0.588,0.809L0,0.382L-0.588,0.809L-0.363,0.118L-0.951,-0.309L-0.2245,-0.309Z","size":520,"filled":true,"fill":"#ffffff","stroke":"#1f1fd2","strokeWidth":1.3,"opacity":1},"encoding":{"x":{"field":"depth","type":"quantitative","scale":{"domain":[0,12.45],"nice":false,"zero":false},"axis":null},
"y":{"field":"value","type":"quantitative","scale":{"domain":[-15.6,-6],"nice":false,"zero":false},"axis":{"orient":"right","values":[-8,-10,-12,-14],"format":"d","title":"δ¹⁸O [‰]","titleColor":"#e8141b","titleFontWeight":"normal","titleFontSize":17,"titleX":62,"titleY":60}}}}
]},
{"width":730,"height":118,
"title":{"text":"(b)","anchor":"start","frame":"group","offset":0,"dx":5,"dy":40,"baseline":"middle","fontSize":16,"fontWeight":"normal","color":"#333"},
"layer":[
{"data":{"name":"bands"},"transform":[{"filter":"datum.tone == 'light'"}],"mark":{"type":"rect","color":"#dedede"},"encoding":{"x":{"field":"start","type":"quantitative","scale":{"domain":[0,12.45],"nice":false,"zero":false},"axis":null},"x2":{"field":"end"}}},
{"data":{"name":"bands"},"transform":[{"filter":"datum.tone == 'dark'"}],"mark":{"type":"rect","color":"#cfcfcf"},"encoding":{"x":{"field":"start","type":"quantitative","scale":{"domain":[0,12.45],"nice":false,"zero":false},"axis":null},"x2":{"field":"end"}}},
{"data":{"name":"years"},"mark":{"type":"rule","color":"#222","strokeWidth":1.2},"encoding":{"x":{"field":"depth","type":"quantitative","scale":{"domain":[0,12.45],"nice":false,"zero":false},"axis":null}}},
{"data":{"name":"series"},"transform":[{"filter":"datum.panel == 'b'"}],"encoding":{"x":{"field":"depth","type":"quantitative","scale":{"domain":[0,12.45],"nice":false,"zero":false},"axis":null},
"y":{"field":"raw","type":"quantitative","scale":{"domain":[0,2000],"nice":false,"zero":false},"axis":{"orient":"left","values":[500,1000,1500],"format":"d","title":"SO₄²⁻ [ppb]","titleColor":"#1f1fd2","titleX":-62,"titleY":59}}},
"layer":[{"mark":{"type":"line","color":"#1f1fd2","strokeWidth":0.8,"clip":true}},{"mark":{"type":"point","shape":"circle","size":14,"filled":false,"color":"#1f1fd2","strokeWidth":0.8,"clip":true}}]},
{"data":{"name":"series"},"transform":[{"filter":"datum.panel == 'b'"}],"mark":{"type":"line","color":"#1f1fd2","strokeWidth":2.6,"clip":true},"encoding":{"x":{"field":"depth","type":"quantitative","scale":{"domain":[0,12.45],"nice":false,"zero":false},"axis":null},
"y":{"field":"smooth","type":"quantitative","scale":{"domain":[0,2000],"nice":false,"zero":false},"axis":{"orient":"left","values":[500,1000,1500],"format":"d","title":"SO₄²⁻ [ppb]","titleColor":"#1f1fd2","titleX":-62,"titleY":59}}}},
{"data":{"name":"stars"},"transform":[{"filter":"datum.panel == 'b'"}],"mark":{"type":"point","shape":"M0,-1L0.2245,-0.309L0.951,-0.309L0.363,0.118L0.588,0.809L0,0.382L-0.588,0.809L-0.363,0.118L-0.951,-0.309L-0.2245,-0.309Z","size":370,"filled":true,"color":"#1f1fd2","opacity":1},"encoding":{"x":{"field":"depth","type":"quantitative","scale":{"domain":[0,12.45],"nice":false,"zero":false},"axis":null},
"y":{"field":"value","type":"quantitative","scale":{"domain":[0,2000],"nice":false,"zero":false},"axis":{"orient":"left","values":[500,1000,1500],"format":"d","title":"SO₄²⁻ [ppb]","titleColor":"#1f1fd2","titleX":-62,"titleY":59}}}}
]},
{"width":730,"height":113,
"title":{"text":"(c)","anchor":"start","frame":"group","offset":0,"dx":5,"dy":40,"baseline":"middle","fontSize":16,"fontWeight":"normal","color":"#333"},
"layer":[
{"data":{"name":"bands"},"transform":[{"filter":"datum.tone == 'light'"}],"mark":{"type":"rect","color":"#dedede"},"encoding":{"x":{"field":"start","type":"quantitative","scale":{"domain":[0,12.45],"nice":false,"zero":false},"axis":null},"x2":{"field":"end"}}},
{"data":{"name":"bands"},"transform":[{"filter":"datum.tone == 'dark'"}],"mark":{"type":"rect","color":"#cfcfcf"},"encoding":{"x":{"field":"start","type":"quantitative","scale":{"domain":[0,12.45],"nice":false,"zero":false},"axis":null},"x2":{"field":"end"}}},
{"data":{"name":"years"},"mark":{"type":"rule","color":"#222","strokeWidth":1.2},"encoding":{"x":{"field":"depth","type":"quantitative","scale":{"domain":[0,12.45],"nice":false,"zero":false},"axis":null}}},
{"data":{"name":"series"},"transform":[{"filter":"datum.panel == 'c'"}],"encoding":{"x":{"field":"depth","type":"quantitative","scale":{"domain":[0,12.45],"nice":false,"zero":false},"axis":null},
"y":{"field":"raw","type":"quantitative","scale":{"domain":[1.5,29.75],"nice":false,"zero":false},"axis":{"orient":"right","values":[10,20],"format":"d","title":"Br⁻ [ppb]","titleColor":"#1f1fd2","titleX":62,"titleY":56}}},
"layer":[{"mark":{"type":"line","color":"#1f1fd2","strokeWidth":0.8,"clip":true}},{"mark":{"type":"point","shape":"circle","size":14,"filled":false,"color":"#1f1fd2","strokeWidth":0.8,"clip":true}}]},
{"data":{"name":"series"},"transform":[{"filter":"datum.panel == 'c'"}],"mark":{"type":"line","color":"#1f1fd2","strokeWidth":2.6,"clip":true},"encoding":{"x":{"field":"depth","type":"quantitative","scale":{"domain":[0,12.45],"nice":false,"zero":false},"axis":null},
"y":{"field":"smooth","type":"quantitative","scale":{"domain":[1.5,29.75],"nice":false,"zero":false},"axis":{"orient":"right","values":[10,20],"format":"d","title":"Br⁻ [ppb]","titleColor":"#1f1fd2","titleX":62,"titleY":56}}}}
]},
{"width":730,"height":112,
"title":{"text":"(d)","anchor":"start","frame":"group","offset":0,"dx":5,"dy":41,"baseline":"middle","fontSize":16,"fontWeight":"normal","color":"#333"},
"layer":[
{"data":{"name":"bands"},"transform":[{"filter":"datum.tone == 'light'"}],"mark":{"type":"rect","color":"#dedede"},"encoding":{"x":{"field":"start","type":"quantitative","scale":{"domain":[0,12.45],"nice":false,"zero":false},"axis":null},"x2":{"field":"end"}}},
{"data":{"name":"bands"},"transform":[{"filter":"datum.tone == 'dark'"}],"mark":{"type":"rect","color":"#cfcfcf"},"encoding":{"x":{"field":"start","type":"quantitative","scale":{"domain":[0,12.45],"nice":false,"zero":false},"axis":null},"x2":{"field":"end"}}},
{"data":{"name":"years"},"mark":{"type":"rule","color":"#222","strokeWidth":1.2},"encoding":{"x":{"field":"depth","type":"quantitative","scale":{"domain":[0,12.45],"nice":false,"zero":false},"axis":null}}},
{"data":{"name":"series"},"transform":[{"filter":"datum.panel == 'd'"}],"encoding":{"x":{"field":"depth","type":"quantitative","scale":{"domain":[0,12.45],"nice":false,"zero":false},"axis":null},
"y":{"field":"raw","type":"quantitative","scale":{"domain":[9,301],"nice":false,"zero":false},"axis":{"orient":"left","values":[50,100,150,200,250],"format":"d","title":"Ca²⁺ [ppb]","titleColor":"#1f1fd2","titleX":-62,"titleY":56}}},
"layer":[{"mark":{"type":"line","color":"#1f1fd2","strokeWidth":0.8,"clip":true}},{"mark":{"type":"point","shape":"circle","size":14,"filled":false,"color":"#1f1fd2","strokeWidth":0.8,"clip":true}}]},
{"data":{"name":"series"},"transform":[{"filter":"datum.panel == 'd'"}],"mark":{"type":"line","color":"#1f1fd2","strokeWidth":2.6,"clip":true},"encoding":{"x":{"field":"depth","type":"quantitative","scale":{"domain":[0,12.45],"nice":false,"zero":false},"axis":null},
"y":{"field":"smooth","type":"quantitative","scale":{"domain":[9,301],"nice":false,"zero":false},"axis":{"orient":"left","values":[50,100,150,200,250],"format":"d","title":"Ca²⁺ [ppb]","titleColor":"#1f1fd2","titleX":-62,"titleY":56}}}}
]},
{"width":730,"height":113,
"title":{"text":"(e)","anchor":"start","frame":"group","offset":0,"dx":5,"dy":41,"baseline":"middle","fontSize":16,"fontWeight":"normal","color":"#333"},
"layer":[
{"data":{"name":"bands"},"transform":[{"filter":"datum.tone == 'light'"}],"mark":{"type":"rect","color":"#dedede"},"encoding":{"x":{"field":"start","type":"quantitative","scale":{"domain":[0,12.45],"nice":false,"zero":false},"axis":null},"x2":{"field":"end"}}},
{"data":{"name":"bands"},"transform":[{"filter":"datum.tone == 'dark'"}],"mark":{"type":"rect","color":"#cfcfcf"},"encoding":{"x":{"field":"start","type":"quantitative","scale":{"domain":[0,12.45],"nice":false,"zero":false},"axis":null},"x2":{"field":"end"}}},
{"data":{"name":"years"},"mark":{"type":"rule","color":"#222","strokeWidth":1.2},"encoding":{"x":{"field":"depth","type":"quantitative","scale":{"domain":[0,12.45],"nice":false,"zero":false},"axis":null}}},
{"data":{"name":"series"},"transform":[{"filter":"datum.panel == 'e'"}],"encoding":{"x":{"field":"depth","type":"quantitative","scale":{"domain":[0,12.45],"nice":false,"zero":false},"axis":null},
"y":{"field":"raw","type":"quantitative","scale":{"domain":[50,9650],"nice":false,"zero":false},"axis":{"orient":"right","values":[3000,6000,9000],"format":"d","title":"Cl⁻ [ppb]","titleColor":"#1f1fd2","titleX":62,"titleY":56}}},
"layer":[{"mark":{"type":"line","color":"#1f1fd2","strokeWidth":0.8,"clip":true}},{"mark":{"type":"point","shape":"circle","size":14,"filled":false,"color":"#1f1fd2","strokeWidth":0.8,"clip":true}}]},
{"data":{"name":"series"},"transform":[{"filter":"datum.panel == 'e'"}],"mark":{"type":"line","color":"#1f1fd2","strokeWidth":2.6,"clip":true},"encoding":{"x":{"field":"depth","type":"quantitative","scale":{"domain":[0,12.45],"nice":false,"zero":false},"axis":null},
"y":{"field":"smooth","type":"quantitative","scale":{"domain":[50,9650],"nice":false,"zero":false},"axis":{"orient":"right","values":[3000,6000,9000],"format":"d","title":"Cl⁻ [ppb]","titleColor":"#1f1fd2","titleX":62,"titleY":56}}}}
]},
{"width":730,"height":101,
"title":{"text":"(f)","anchor":"start","frame":"group","offset":0,"dx":5,"dy":36,"baseline":"middle","fontSize":16,"fontWeight":"normal","color":"#333"},
"layer":[
{"data":{"name":"bands"},"transform":[{"filter":"datum.tone == 'light'"}],"mark":{"type":"rect","color":"#dedede"},"encoding":{"x":{"field":"start","type":"quantitative","scale":{"domain":[0,12.45],"nice":false,"zero":false},"axis":null},"x2":{"field":"end"}}},
{"data":{"name":"bands"},"transform":[{"filter":"datum.tone == 'dark'"}],"mark":{"type":"rect","color":"#cfcfcf"},"encoding":{"x":{"field":"start","type":"quantitative","scale":{"domain":[0,12.45],"nice":false,"zero":false},"axis":null},"x2":{"field":"end"}}},
{"data":{"name":"years"},"mark":{"type":"rule","color":"#222","strokeWidth":1.2},"encoding":{"x":{"field":"depth","type":"quantitative","scale":{"domain":[0,12.45],"nice":false,"zero":false},"axis":null}}},
{"data":{"name":"series"},"transform":[{"filter":"datum.panel == 'f'"}],"encoding":{"x":{"field":"depth","type":"quantitative","scale":{"domain":[0,12.45],"nice":false,"zero":false},"axis":null},
"y":{"field":"raw","type":"quantitative","scale":{"domain":[0,5000],"nice":false,"zero":false},"axis":{"orient":"left","values":[1000,3000],"format":"d","title":"Na⁺ [ppb]","titleColor":"#1f1fd2","titleX":-62,"titleY":50}}},
"layer":[{"mark":{"type":"line","color":"#1f1fd2","strokeWidth":0.8,"clip":true}},{"mark":{"type":"point","shape":"circle","size":14,"filled":false,"color":"#1f1fd2","strokeWidth":0.8,"clip":true}}]},
{"data":{"name":"series"},"transform":[{"filter":"datum.panel == 'f'"}],"mark":{"type":"line","color":"#1f1fd2","strokeWidth":2.6,"clip":true},"encoding":{"x":{"field":"depth","type":"quantitative","scale":{"domain":[0,12.45],"nice":false,"zero":false},"axis":null},
"y":{"field":"smooth","type":"quantitative","scale":{"domain":[0,5000],"nice":false,"zero":false},"axis":{"orient":"left","values":[1000,3000],"format":"d","title":"Na⁺ [ppb]","titleColor":"#1f1fd2","titleX":-62,"titleY":50}}}}
]},
{"width":730,"height":118,
"title":{"text":"(g)","anchor":"start","frame":"group","offset":0,"dx":5,"dy":41,"baseline":"middle","fontSize":16,"fontWeight":"normal","color":"#333"},
"layer":[
{"data":{"name":"bands"},"transform":[{"filter":"datum.tone == 'light'"}],"mark":{"type":"rect","color":"#dedede"},"encoding":{"x":{"field":"start","type":"quantitative","scale":{"domain":[0,12.45],"nice":false,"zero":false},"axis":{"orient":"bottom","values":[0,2,4,6,8,10,12],"format":"d","title":"Depth (m)","titleX":377,"titleY":33,"titleBaseline":"middle"}},"x2":{"field":"end"}}},
{"data":{"name":"bands"},"transform":[{"filter":"datum.tone == 'dark'"}],"mark":{"type":"rect","color":"#cfcfcf"},"encoding":{"x":{"field":"start","type":"quantitative","scale":{"domain":[0,12.45],"nice":false,"zero":false},"axis":{"orient":"bottom","values":[0,2,4,6,8,10,12],"format":"d","title":"Depth (m)","titleX":377,"titleY":33,"titleBaseline":"middle"}},"x2":{"field":"end"}}},
{"data":{"name":"years"},"mark":{"type":"rule","color":"#222","strokeWidth":1.2},"encoding":{"x":{"field":"depth","type":"quantitative","scale":{"domain":[0,12.45],"nice":false,"zero":false},"axis":{"orient":"bottom","values":[0,2,4,6,8,10,12],"format":"d","title":"Depth (m)","titleX":377,"titleY":33,"titleBaseline":"middle"}}}},
{"data":{"name":"series"},"transform":[{"filter":"datum.panel == 'g'"}],"encoding":{"x":{"field":"depth","type":"quantitative","scale":{"domain":[0,12.45],"nice":false,"zero":false},"axis":{"orient":"bottom","values":[0,2,4,6,8,10,12],"format":"d","title":"Depth (m)","titleX":377,"titleY":33,"titleBaseline":"middle"}},
"y":{"field":"raw","type":"quantitative","scale":{"domain":[0,305],"nice":false,"zero":false},"axis":{"orient":"right","values":[0,100,200],"format":"d","title":"MSA⁻ [ppb]","titleColor":"#1f1fd2","titleX":62,"titleY":59}}},
"layer":[{"mark":{"type":"line","color":"#1f1fd2","strokeWidth":0.8,"clip":true}},{"mark":{"type":"point","shape":"circle","size":14,"filled":false,"color":"#1f1fd2","strokeWidth":0.8,"clip":true}}]},
{"data":{"name":"series"},"transform":[{"filter":"datum.panel == 'g'"}],"mark":{"type":"line","color":"#1f1fd2","strokeWidth":2.6,"clip":true},"encoding":{"x":{"field":"depth","type":"quantitative","scale":{"domain":[0,12.45],"nice":false,"zero":false},"axis":{"orient":"bottom","values":[0,2,4,6,8,10,12],"format":"d","title":"Depth (m)","titleX":377,"titleY":33,"titleBaseline":"middle"}},
"y":{"field":"smooth","type":"quantitative","scale":{"domain":[0,305],"nice":false,"zero":false},"axis":{"orient":"right","values":[0,100,200],"format":"d","title":"MSA⁻ [ppb]","titleColor":"#1f1fd2","titleX":62,"titleY":59}}}}
]}
]
}
